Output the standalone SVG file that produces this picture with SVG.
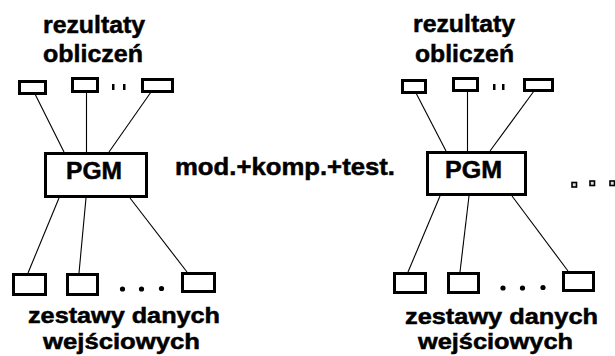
<svg xmlns="http://www.w3.org/2000/svg" width="615" height="356" viewBox="0 0 615 356">
  <style>
    .lbl { font-family: "Liberation Sans", Arial, sans-serif; font-weight: bold; font-size: 24px; fill: #000; stroke: #000; stroke-width: 0.5; }
    .sm { font-size: 22px; }
    .box { fill: #fff; stroke: #000; stroke-width: 3; }
    .pgm { fill: #fff; stroke: #000; stroke-width: 3; }
    .link { stroke: #000; stroke-width: 1.1; fill: none; }
    .dot { fill: #000; }
    .sq { fill: #ddd; stroke: #000; stroke-width: 1.6; }
  </style>
  <rect width="615" height="356" fill="#fff"/>

  <!-- connectors -->
  <g id="connectors">
    <line class="link" x1="35" y1="94" x2="64" y2="152"/>
    <line class="link" x1="86.5" y1="92" x2="86.5" y2="152"/>
    <line class="link" x1="151" y1="92" x2="109" y2="152"/>
    <line class="link" x1="59" y1="198" x2="28" y2="273"/>
    <line class="link" x1="86" y1="198" x2="79" y2="273"/>
    <line class="link" x1="130" y1="198" x2="187" y2="272"/>

    <line class="link" x1="416" y1="93" x2="446" y2="151"/>
    <line class="link" x1="467.5" y1="91" x2="467.5" y2="151"/>
    <line class="link" x1="534" y1="91" x2="490" y2="151"/>
    <line class="link" x1="440" y1="196" x2="408" y2="272"/>
    <line class="link" x1="469" y1="196" x2="460" y2="272"/>
    <line class="link" x1="512" y1="196" x2="568" y2="271"/>
  </g>

  <!-- left: results -->
  <g id="results-left">
    <text class="lbl" x="43" y="33" textLength="102" lengthAdjust="spacingAndGlyphs">rezultaty</text>
    <text class="lbl" x="43" y="62" textLength="100" lengthAdjust="spacingAndGlyphs">obliczeń</text>
    <rect class="box" x="19.5" y="81.5" width="26" height="12"/>
    <rect class="box" x="72.5" y="78.5" width="25" height="13"/>
    <rect class="box" x="142.5" y="79.5" width="30" height="12"/>
    <rect class="dot" x="112" y="84" width="2.5" height="6"/>
    <rect class="dot" x="123" y="84" width="2.5" height="6"/>
  </g>

  <g id="pgm-left">
    <rect class="pgm" x="45.5" y="153.5" width="101" height="43"/>
    <text class="lbl" x="66" y="179" textLength="56" lengthAdjust="spacingAndGlyphs">PGM</text>
  </g>

  <g id="inputs-left">
    <rect class="box" x="13.5" y="274.5" width="32" height="20"/>
    <rect class="box" x="67.5" y="274.5" width="30" height="20"/>
    <rect class="box" x="182.5" y="273.5" width="32" height="18"/>
    <circle class="dot" cx="122.5" cy="289" r="2.6"/>
    <circle class="dot" cx="141.5" cy="289" r="2.6"/>
    <circle class="dot" cx="161.5" cy="288.5" r="2.6"/>
    <text class="lbl sm" x="28" y="323" textLength="192" lengthAdjust="spacingAndGlyphs">zestawy danych</text>
    <text class="lbl sm" x="43" y="349" textLength="157" lengthAdjust="spacingAndGlyphs">wejściowych</text>
  </g>

  <g id="step">
    <text class="lbl" x="175" y="175" textLength="220" lengthAdjust="spacingAndGlyphs">mod.+komp.+test.</text>
  </g>

  <!-- right: results -->
  <g id="results-right">
    <text class="lbl" x="413" y="32" textLength="102" lengthAdjust="spacingAndGlyphs">rezultaty</text>
    <text class="lbl" x="415" y="62" textLength="99" lengthAdjust="spacingAndGlyphs">obliczeń</text>
    <rect class="box" x="402.5" y="80.5" width="23" height="12"/>
    <rect class="box" x="453.5" y="78.5" width="24" height="12"/>
    <rect class="box" x="524.5" y="79.5" width="28" height="11"/>
    <rect class="dot" x="493" y="84" width="2.5" height="6"/>
    <rect class="dot" x="502" y="84" width="2.5" height="6"/>
  </g>

  <g id="pgm-right">
    <rect class="pgm" x="427.5" y="152.5" width="98" height="42"/>
    <text class="lbl" x="445" y="178" textLength="57" lengthAdjust="spacingAndGlyphs">PGM</text>
  </g>

  <g id="inputs-right">
    <rect class="box" x="394.5" y="273.5" width="31" height="19"/>
    <rect class="box" x="448.5" y="273.5" width="30" height="19"/>
    <rect class="box" x="563.5" y="272.5" width="30" height="18"/>
    <circle class="dot" cx="503" cy="288" r="2.6"/>
    <circle class="dot" cx="522.5" cy="288" r="2.6"/>
    <circle class="dot" cx="543" cy="287.5" r="2.6"/>
    <text class="lbl sm" x="405" y="324" textLength="193" lengthAdjust="spacingAndGlyphs">zestawy danych</text>
    <text class="lbl sm" x="418" y="349" textLength="155" lengthAdjust="spacingAndGlyphs">wejściowych</text>
  </g>

  <g id="more">
    <rect class="sq" x="572" y="182.5" width="4.5" height="4.5"/>
    <rect class="sq" x="590" y="181" width="4.5" height="4.5"/>
    <rect class="sq" x="610" y="181" width="4.5" height="4.5"/>
  </g>
</svg>
